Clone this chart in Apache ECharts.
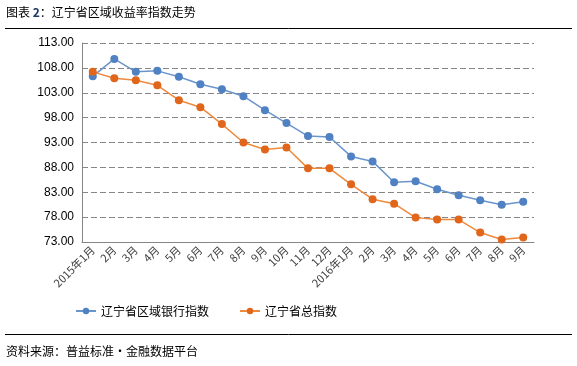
<!DOCTYPE html>
<html><head><meta charset="utf-8">
<script src="https://cdn.jsdelivr.net/npm/echarts@6/dist/echarts.min.js"></script>
<style>html,body{margin:0;padding:0;background:#fff}#c{width:577px;height:366px}</style>
</head><body><div id="c"></div>
<script>
var categories = ['2015年1月','2月','3月','4月','5月','6月','7月','8月','9月','10月','11月','12月','2016年1月','2月','3月','4月','5月','6月','7月','8月','9月'];
var bankIndex = [106.3,109.8,107.2,107.4,106.2,104.7,103.7,102.3,99.5,96.9,94.3,94.1,90.2,89.2,85.0,85.2,83.6,82.4,81.4,80.5,81.1];
var totalIndex = [107.2,105.9,105.5,104.5,101.5,100.1,96.7,93.0,91.6,92.0,87.8,87.8,84.6,81.6,80.7,77.9,77.5,77.5,74.9,73.5,73.9];
var yTicks = {min:73, max:113, step:5};
var seriesNames = ['辽宁省区域银行指数','辽宁省总指数'];

var font = '"Noto Sans CJK SC", "Microsoft YaHei", sans-serif';
var chart = echarts.init(document.getElementById('c'));
chart.setOption({
  animation:false,
  textStyle:{fontFamily:font},
  graphic:[
    {type:'text', left:6, top:6, style:{text:'{a|图表 }{b|2}{a|：辽宁省区域收益率指数走势}', rich:{a:{fontSize:12,fill:'#000',fontFamily:font},b:{fontSize:12,fill:'#1F3864',fontWeight:'bold',fontFamily:font}}}},
    {type:'line', shape:{x1:5,y1:28.5,x2:572,y2:28.5}, style:{stroke:'#000',lineWidth:1}},
    {type:'line', shape:{x1:5,y1:334.5,x2:572,y2:334.5}, style:{stroke:'#000',lineWidth:1}},
    {type:'text', left:6, top:345, style:{text:'资料来源：普益标准・金融数据平台', fontSize:12, fill:'#000', fontFamily:font}}
  ],
  legend:{
    left:70, top:300, itemWidth:20, itemHeight:8, itemGap:30,
    textStyle:{fontSize:12,color:'#000',fontFamily:font},
    data:seriesNames
  },
  grid:{left:82, right:43, top:43, bottom:124},
  xAxis:{
    type:'category', data:categories, boundaryGap:true,
    axisLine:{lineStyle:{color:'#868686'}},
    axisTick:{show:false},
    axisLabel:{rotate:45, fontSize:11, color:'#404040', interval:0, margin:6, fontFamily:font}
  },
  yAxis:{
    type:'value', min:yTicks.min, max:yTicks.max, interval:yTicks.step,
    axisLine:{show:true, lineStyle:{color:'#868686'}},
    axisTick:{show:false},
    axisLabel:{fontSize:12, color:'#000', formatter:function(v){return v.toFixed(2);}, margin:8, fontFamily:'"Liberation Sans", Arial, sans-serif'},
    splitLine:{lineStyle:{color:'#868686', type:[6,3], width:1}}
  },
  series:[
    {name:seriesNames[0], type:'line', data:bankIndex, symbol:'circle', symbolSize:8,
     itemStyle:{color:'#4F81C3'}, lineStyle:{color:'#6A95CC', width:1.5}},
    {name:seriesNames[1], type:'line', data:totalIndex, symbol:'circle', symbolSize:8,
     itemStyle:{color:'#E0661B'}, lineStyle:{color:'#EE8A3E', width:1.5}}
  ]
});
</script></body></html>
